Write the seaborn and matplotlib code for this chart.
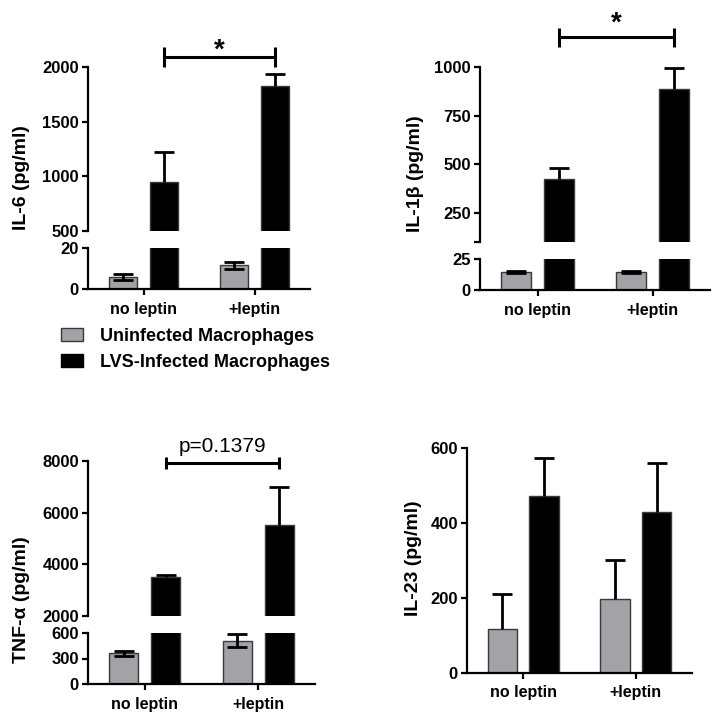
import numpy as np
import pandas as pd
import matplotlib
matplotlib.use("Agg")
import matplotlib.pyplot as plt
import seaborn as sns
from matplotlib.patches import Patch

# data
groups = ["no leptin", "+leptin"]
cells = ["Uninfected Macrophages", "LVS-Infected Macrophages"]

il6_uninf = [6.0, 11.5]
il6_uninf_err = [1.5, 1.5]
il6_lvs = [950, 1830]
il6_lvs_err = [275, 110]

il1b_uninf = [14.5, 14.5]
il1b_uninf_err = [0.6, 0.6]
il1b_lvs = [425, 885]
il1b_lvs_err = [55, 110]

tnf_uninf = [360, 510]
tnf_uninf_err = [25, 80]
tnf_lvs = [3520, 5520]
tnf_lvs_err = [60, 1480]

il23_uninf = [118, 198]
il23_uninf_err = [94, 103]
il23_lvs = [472, 430]
il23_lvs_err = [101, 130]

GRAY = "#a2a2a7"
palette = {cells[0]: GRAY, cells[1]: "black"}

sns.set_style("ticks")
plt.rcParams["font.family"] = ["Liberation Sans", "DejaVu Sans"]
plt.rcParams["font.weight"] = "bold"
for k in ["text.color", "axes.edgecolor", "axes.labelcolor",
          "xtick.color", "ytick.color"]:
    plt.rcParams[k] = "black"

W, H = 725, 721
fig = plt.figure(figsize=(W / 100, H / 100), dpi=100)


def px_axes(x0, y0, x1, y1):
    # pixel box (top-left origin) -> figure axes
    return fig.add_axes([x0 / W, 1 - y1 / H, (x1 - x0) / W, (y1 - y0) / H])


def draw_bars(ax, uninf, uninf_err, lvs, lvs_err, gray_both=True):
    df = pd.DataFrame({
        "group": groups * 2,
        "cell": [cells[0]] * 2 + [cells[1]] * 2,
        "value": uninf + lvs,
    })
    sns.barplot(data=df, x="group", y="value", hue="cell", order=groups,
                hue_order=cells, palette=palette, saturation=1, width=0.74,
                gap=0.3, errorbar=None, legend=False, edgecolor="#3a3a3a",
                linewidth=1, ax=ax)
    for i, (cont, vals, errs) in enumerate(zip(ax.containers, [uninf, lvs],
                                               [uninf_err, lvs_err])):
        both = (i == 0 and gray_both)
        for bar, v, e in zip(cont, vals, errs):
            xc = bar.get_x() + bar.get_width() / 2
            lo = e if both else 0
            _, caps, _ = ax.errorbar(xc, v, yerr=[[lo], [e]], fmt="none",
                                     ecolor="black", elinewidth=2,
                                     capsize=7.5, capthick=2, zorder=3)
            if not both:
                # one-sided bar: hide the cap sitting on the bar top
                for c in caps:
                    if np.isclose(c.get_ydata()[0], v):
                        c.set_visible(False)
    ax.set_xlim(-0.5, 1.5)
    ax.set_xlabel("")
    ax.set_ylabel("")


def style(ax, top_part):
    for s in ["top", "right"]:
        ax.spines[s].set_visible(False)
    for s in ["left", "bottom"]:
        ax.spines[s].set_linewidth(1.6)
    ax.tick_params(axis="y", direction="out", length=4.5, width=1.6,
                   labelsize=12, pad=2)
    ax.tick_params(axis="x", direction="out", length=4.5, width=1.6,
                   labelsize=11.5, pad=4.5)
    if top_part:
        ax.spines["bottom"].set_visible(False)
        ax.tick_params(axis="x", bottom=False, labelbottom=False)


def bracket(ax, y, h, label, ty, fs, weight):
    xs = [b.get_x() + b.get_width() / 2 for b in ax.containers[1]]
    kw = dict(color="black", lw=2.2, clip_on=False, solid_capstyle="butt")
    ax.plot(xs, [y, y], **kw)
    ax.plot([xs[0], xs[0]], [y - h, y + h], **kw)
    ax.plot([xs[1], xs[1]], [y - h, y + h], **kw)
    ax.text(np.mean(xs), ty, label, ha="center", va="baseline", fontsize=fs,
            fontweight=weight, clip_on=False)


def broken_panel(box_x, top_y, bot_y, top_lim, top_ticks, bot_lim, bot_ticks,
                 uninf, uninf_err, lvs, lvs_err, top_labels=None):
    ax_top = px_axes(box_x[0], top_y[0], box_x[1], top_y[1])
    ax_bot = px_axes(box_x[0], bot_y[0], box_x[1], bot_y[1])
    for ax in (ax_top, ax_bot):
        draw_bars(ax, uninf, uninf_err, lvs, lvs_err)
    ax_top.set_ylim(*top_lim)
    ax_top.set_yticks(top_ticks)
    if top_labels is not None:
        ax_top.set_yticklabels(top_labels)
    ax_bot.set_ylim(*bot_lim)
    ax_bot.set_yticks(bot_ticks)
    style(ax_top, True)
    style(ax_bot, False)
    return ax_top, ax_bot


# IL-6
a1, b1 = broken_panel((88, 310), (67, 231), (248, 289), (500, 2000),
                      [500, 1000, 1500, 2000], (0, 20), [0, 20],
                      il6_uninf, il6_uninf_err, il6_lvs, il6_lvs_err)
bracket(a1, 2091, 91, "*", 2085, 20, "bold")

# IL-1beta
a2, b2 = broken_panel((480, 710), (67, 242), (259, 290), (100, 1000),
                      [100, 250, 500, 750, 1000], (0, 25), [0, 25],
                      il1b_uninf, il1b_uninf_err, il1b_lvs, il1b_lvs_err,
                      top_labels=["", "250", "500", "750", "1000"])
bracket(a2, 1154, 49, "*", 1186, 20, "bold")

# TNF-alpha
a3, b3 = broken_panel((88, 315), (461, 616), (633, 684), (2000, 8000),
                      [2000, 4000, 6000, 8000], (0, 600), [0, 300, 600],
                      tnf_uninf, tnf_uninf_err, tnf_lvs, tnf_lvs_err)
bracket(a3, 7923, 250, "p=0.1379", 8330, 15, "normal")

# IL-23
a4 = px_axes(467, 448, 692, 673)
draw_bars(a4, il23_uninf, il23_uninf_err, il23_lvs, il23_lvs_err,
          gray_both=False)
a4.set_ylim(0, 600)
a4.set_yticks([0, 200, 400, 600])
style(a4, False)

# y labels
for x, y, lab in [(22, 178, "IL-6 (pg/ml)"), (415, 174, "IL-1\u03b2 (pg/ml)"),
                  (22, 600, "TNF-\u03b1 (pg/ml)"), (413, 558, "IL-23 (pg/ml)")]:
    fig.text(x / W, 1 - y / H, lab, rotation=90, ha="center", va="center",
             fontsize=14, fontweight="bold")

handles = [Patch(facecolor=GRAY, edgecolor="#3a3a3a", label=cells[0]),
           Patch(facecolor="black", edgecolor="black", label=cells[1])]
fig.legend(handles=handles, loc="upper left",
           bbox_to_anchor=(61 / W, 1 - 328 / H), frameon=False,
           prop={"size": 13, "weight": "bold"}, handlelength=1.2,
           handleheight=0.7, handletextpad=0.95, labelspacing=0.5,
           borderpad=0, borderaxespad=0)

fig.savefig("out.png", dpi=100)
